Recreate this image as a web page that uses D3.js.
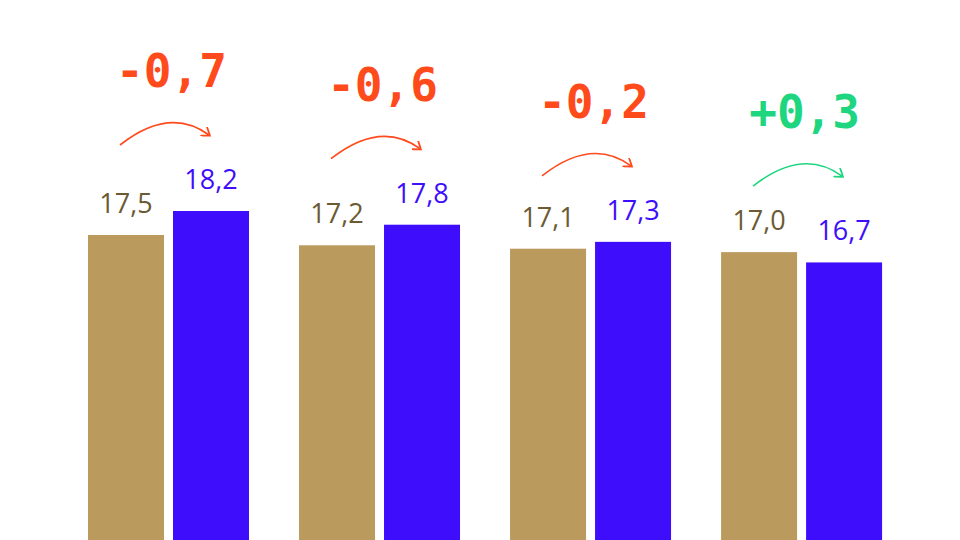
<!DOCTYPE html>
<html>
<head>
<meta charset="utf-8">
<script src="https://cdn.jsdelivr.net/npm/d3@7"></script>
<style>
  body { margin: 0; background: #fff; }
</style>
</head>
<body>
<div id="chart"></div>
<script>
const groups = ["g1", "g2", "g3", "g4"]
const before = [17.5, 17.2, 17.1, 17.0]
const after = [18.2, 17.8, 17.3, 16.7]
const diffLabels = ["-0,7", "-0,6", "-0,2", "+0,3"]

const fmt = v => v.toFixed(1).replace(".", ",")

const width = 960, height = 540
const svg = d3.select("#chart").append("svg")
    .attr("width", width)
    .attr("height", height)

svg.append("defs").selectAll("marker")
    .data(["#ff4a1c", "#1ed67f"])
    .enter().append("marker")
    .attr("id", (d, i) => "head" + i)
    .attr("viewBox", "0 0 10 10")
    .attr("refX", 6).attr("refY", 5)
    .attr("markerWidth", 7).attr("markerHeight", 7)
    .attr("orient", "auto")
    .append("path")
    .attr("d", "M0,0 L7,5 L0,10")
    .attr("fill", "none")
    .attr("stroke", d => d)
    .attr("stroke-width", 1.6)

const x = d3.scaleBand().domain(groups).range([82, 905]).paddingInner(0.1).paddingOuter(0)
const y = d3.scaleLinear().domain([0, 18.2]).range([835, 211])
const barW = 76, gap = 9

const g = svg.selectAll(".grp")
    .data(groups)
    .enter().append("g")
    .attr("transform", d => `translate(${x(d) + 6},0)`)

g.append("rect")
    .attr("x", 0).attr("width", barW)
    .attr("y", (d, i) => y(before[i]))
    .attr("height", (d, i) => height - y(before[i]) + 5)
    .attr("fill", "#bb9a5e")

g.append("rect")
    .attr("x", barW + gap).attr("width", barW)
    .attr("y", (d, i) => y(after[i]))
    .attr("height", (d, i) => height - y(after[i]) + 5)
    .attr("fill", "#3e0dfb")

g.append("text")
    .attr("x", barW / 2)
    .attr("y", (d, i) => y(before[i]) - 22)
    .attr("text-anchor", "middle")
    .attr("font-family", "Open Sans, sans-serif")
    .attr("font-size", 27)
    .attr("fill", "#6b5a33")
    .text((d, i) => fmt(before[i]))

g.append("text")
    .attr("x", barW * 1.5 + gap)
    .attr("y", (d, i) => y(after[i]) - 22)
    .attr("text-anchor", "middle")
    .attr("font-family", "Open Sans, sans-serif")
    .attr("font-size", 27)
    .attr("fill", "#3e0dfb")
    .text((d, i) => fmt(after[i]))

const barTop = i => Math.min(y(before[i]), y(after[i]))
const color = i => after[i] > before[i] ? "#ff4a1c" : "#1ed67f"

g.append("path")
    .attr("d", (d, i) => {
        const t = barTop(i)
        const x0 = barW / 2 - 6, y0 = t - 66
        const x1 = barW * 1.5 + gap - 2, y1 = t - 76
        return `M${x0},${y0} Q${(x0 + x1) / 2 + 5},${t - 105} ${x1},${y1}`
    })
    .attr("fill", "none")
    .attr("stroke", (d, i) => color(i))
    .attr("stroke-width", 1.6)
    .attr("marker-end", (d, i) => `url(#head${after[i] > before[i] ? 0 : 1})`)

g.append("text")
    .attr("x", barW + gap / 2 + 3)
    .attr("y", (d, i) => barTop(i) - 124)
    .attr("text-anchor", "middle")
    .attr("font-family", "DejaVu Sans Mono, monospace")
    .attr("font-weight", "bold")
    .attr("font-size", 46)
    .attr("fill", (d, i) => color(i))
    .text((d, i) => diffLabels[i])
</script>
</body>
</html>
